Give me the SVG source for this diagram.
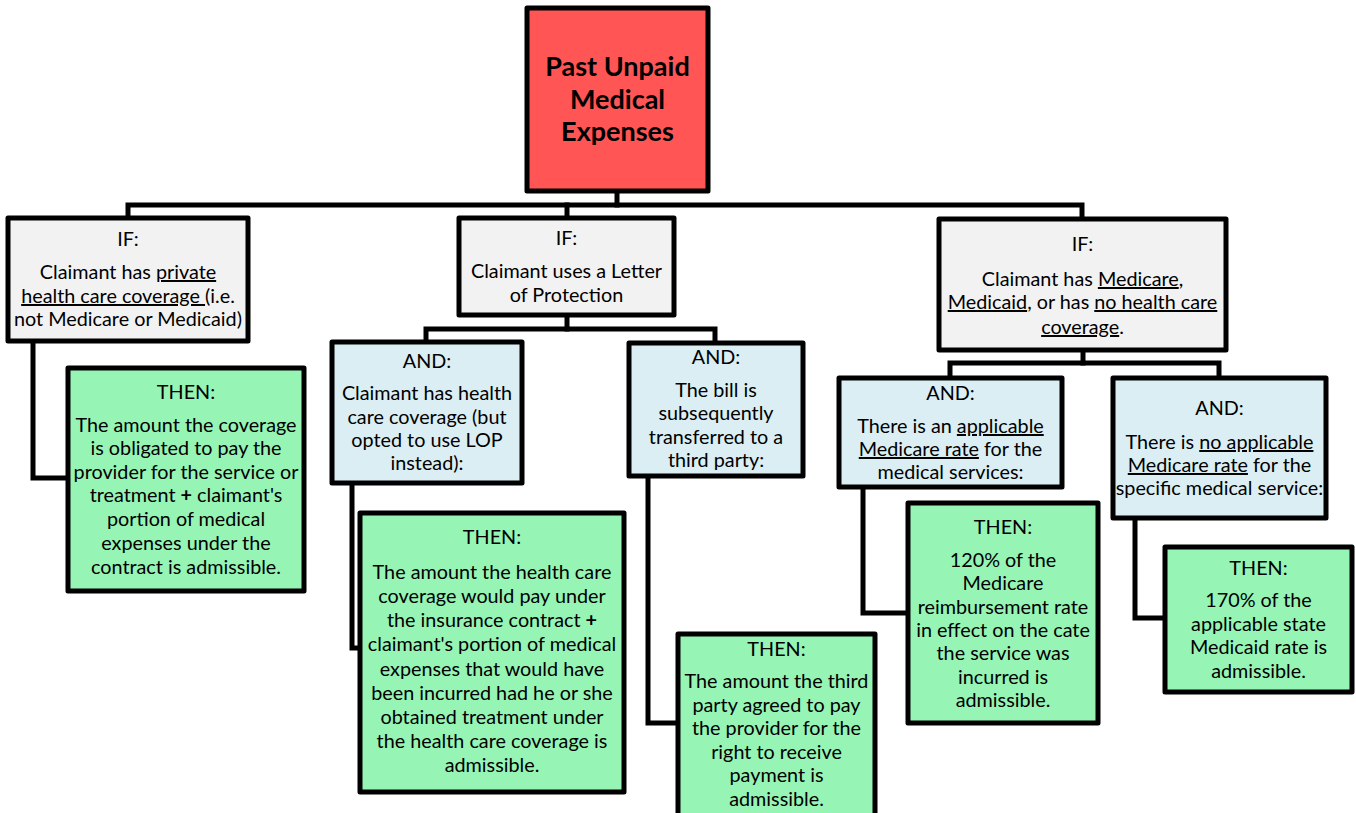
<svg xmlns="http://www.w3.org/2000/svg" width="1356" height="813" viewBox="0 0 1356 813">
<style>
.box{stroke:#000;stroke-width:5;stroke-linejoin:round}
.root{fill:#FF5555}
.if{fill:#F2F2F2}
.and{fill:#DAEEF3}
.then{fill:#96F4B4}
.c{fill:none;stroke:#000;stroke-width:5;stroke-linejoin:miter;stroke-linecap:square}
text{font-family:Lato,"Liberation Sans",sans-serif;font-size:19.8px;fill:#000;text-anchor:middle}
.t{font-size:27px;font-weight:bold}
.u{text-decoration:underline}
.b{font-weight:bold}
</style>
<rect width="1356" height="813" fill="#fff"/>
<g id="connectors">
<path class="c" d="M617,192 V205"/>
<path class="c" d="M128,218 V205 H1082 V219"/>
<path class="c" d="M567,205 V218"/>
<path class="c" d="M567,315 V329"/>
<path class="c" d="M426,342 V329 H715 V343"/>
<path class="c" d="M33,341 V478 H68"/>
<path class="c" d="M352,483 V648 H360"/>
<path class="c" d="M648,476 V723 H678"/>
<path class="c" d="M1083,350 V363"/>
<path class="c" d="M950,378 V363 H1219 V378"/>
<path class="c" d="M863,487 V613 H908"/>
<path class="c" d="M1135,518 V618 H1165"/>
</g>
<g id="root">
<rect class="box root" x="527" y="8" width="181" height="183"/>
<text class="t" x="617.5" y="76">Past Unpaid</text>
<text class="t" x="617.5" y="109">Medical</text>
<text class="t" x="617.5" y="141">Expenses</text>
</g>
<g id="if-private">
<rect class="box if" x="8" y="218" width="240" height="123"/>
<text x="128" y="246">IF:</text>
<text x="128" y="279">Claimant has <tspan class="u">private</tspan></text>
<text x="128" y="303"><tspan class="u">health care coverage </tspan>(i.e.</text>
<text x="128" y="326">not Medicare or Medicaid)</text>
</g>
<g id="then-private">
<rect class="box then" x="68" y="368" width="236" height="223"/>
<text x="186" y="399">THEN:</text>
<text x="186" y="432">The amount the coverage</text>
<text x="186" y="455">is obligated to pay the</text>
<text x="186" y="479">provider for the service or</text>
<text x="186" y="502">treatment <tspan class="b">+</tspan> claimant's</text>
<text x="186" y="526">portion of medical</text>
<text x="186" y="550">expenses under the</text>
<text x="186" y="574">contract is admissible.</text>
</g>
<g id="if-lop">
<rect class="box if" x="459" y="218" width="215" height="97"/>
<text x="566.5" y="245">IF:</text>
<text x="566.5" y="278">Claimant uses a Letter</text>
<text x="566.5" y="302">of Protection</text>
</g>
<g id="and-coverage">
<rect class="box and" x="332" y="342" width="190" height="141"/>
<text x="427" y="368">AND:</text>
<text x="427" y="400">Claimant has health</text>
<text x="427" y="424">care coverage (but</text>
<text x="427" y="447">opted to use LOP</text>
<text x="427" y="470">instead):</text>
</g>
<g id="and-transfer">
<rect class="box and" x="629" y="343" width="174" height="133"/>
<text x="716" y="364">AND:</text>
<text x="716" y="397">The bill is</text>
<text x="716" y="420">subsequently</text>
<text x="716" y="444">transferred to a</text>
<text x="716" y="467">third party:</text>
</g>
<g id="then-coverage">
<rect class="box then" x="360" y="513" width="264" height="279"/>
<text x="492" y="544">THEN:</text>
<text x="492" y="579">The amount the health care</text>
<text x="492" y="603">coverage would pay under</text>
<text x="492" y="627">the insurance contract <tspan class="b">+</tspan></text>
<text x="492" y="651">claimant's portion of medical</text>
<text x="492" y="676">expenses that would have</text>
<text x="492" y="700">been incurred had he or she</text>
<text x="492" y="724">obtained treatment under</text>
<text x="492" y="748">the health care coverage is</text>
<text x="492" y="772">admissible.</text>
</g>
<g id="then-transfer">
<rect class="box then" x="678" y="634" width="197" height="186"/>
<text x="776.5" y="656">THEN:</text>
<text x="776.5" y="688">The amount the third</text>
<text x="776.5" y="712">party agreed to pay</text>
<text x="776.5" y="735">the provider for the</text>
<text x="776.5" y="759">right to receive</text>
<text x="776.5" y="782">payment is</text>
<text x="776.5" y="806">admissible.</text>
</g>
<g id="if-medicare">
<rect class="box if" x="939" y="219" width="287" height="131"/>
<text x="1082.5" y="251">IF:</text>
<text x="1082.5" y="286">Claimant has <tspan class="u">Medicare</tspan>,</text>
<text x="1082.5" y="309"><tspan class="u">Medicaid</tspan>, or has <tspan class="u">no health care</tspan></text>
<text x="1082.5" y="334"><tspan class="u">coverage</tspan>.</text>
</g>
<g id="and-rate">
<rect class="box and" x="839" y="378" width="223" height="109"/>
<text x="950.5" y="400">AND:</text>
<text x="950.5" y="433">There is an <tspan class="u">applicable</tspan></text>
<text x="950.5" y="456"><tspan class="u">Medicare rate</tspan> for the</text>
<text x="950.5" y="479">medical services:</text>
</g>
<g id="and-norate">
<rect class="box and" x="1113" y="378" width="213" height="140"/>
<text x="1219.5" y="415">AND:</text>
<text x="1219.5" y="449">There is <tspan class="u">no applicable</tspan></text>
<text x="1219.5" y="472"><tspan class="u">Medicare rate</tspan> for the</text>
<text x="1219.5" y="495">specific medical service:</text>
</g>
<g id="then-rate">
<rect class="box then" x="908" y="503" width="190" height="220"/>
<text x="1003" y="534">THEN:</text>
<text x="1003" y="567">120% of the</text>
<text x="1003" y="590">Medicare</text>
<text x="1003" y="614">reimbursement rate</text>
<text x="1003" y="637">in effect on the cate</text>
<text x="1003" y="660">the service was</text>
<text x="1003" y="684">incurred is</text>
<text x="1003" y="707">admissible.</text>
</g>
<g id="then-norate">
<rect class="box then" x="1165" y="547" width="187" height="145"/>
<text x="1258.5" y="575">THEN:</text>
<text x="1258.5" y="607">170% of the</text>
<text x="1258.5" y="631">applicable state</text>
<text x="1258.5" y="654">Medicaid rate is</text>
<text x="1258.5" y="678">admissible.</text>
</g>
</svg>
